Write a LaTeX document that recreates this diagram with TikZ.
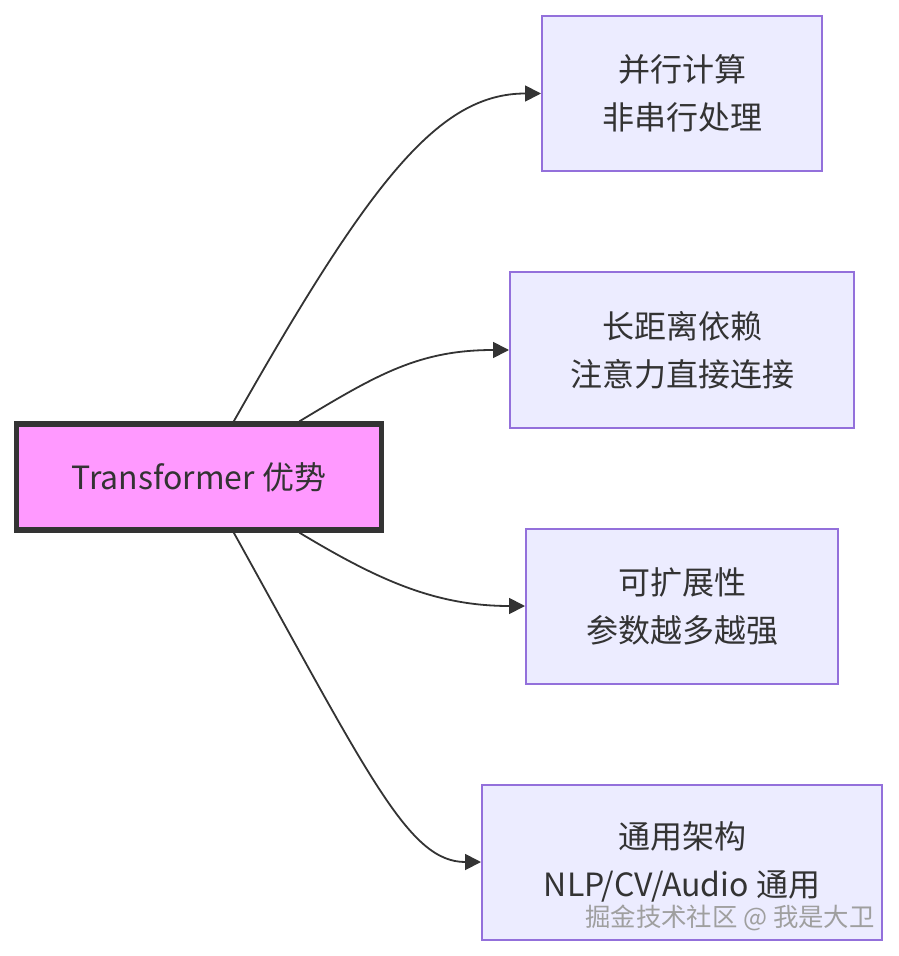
\documentclass[tikz,border=0pt]{standalone}
\usepackage{fontspec}
\setmainfont{Noto Sans CJK SC}
\usetikzlibrary{arrows.meta}
\definecolor{edgegray}{HTML}{333333}
\definecolor{boxfill}{HTML}{ECECFF}
\definecolor{boxline}{HTML}{9370DB}
\definecolor{mainfill}{HTML}{FF99FF}
\begin{document}
\begin{tikzpicture}[x=0.5pt, y=-0.5pt,
	every node/.style={font=\fontsize{16pt}{24pt}\selectfont, text=edgegray, align=center},
	point/.style={draw=boxline, fill=boxfill, line width=1pt, minimum height=77.5pt},
	root/.style={draw=edgegray, fill=mainfill, line width=2.6pt, minimum width=182.5pt, minimum height=53pt},
	link/.style={draw=edgegray, line width=0.9pt, -{Triangle[length=8pt,width=8pt]}}]
	\useasboundingbox (0,0) rectangle (898,956);
	\fill[white] (0,0) rectangle (898,956);
	\node[root] (main) at (199,477) {Transformer 优势};
	\node[point, minimum width=140pt] (par) at (682,93.5) {并行计算\\非串行处理};
	\node[point, minimum width=172pt] (dep) at (682,350) {长距离依赖\\注意力直接连接};
	\node[point, minimum width=156pt] (scl) at (682,606) {可扩展性\\参数越多越强};
	\node[point, minimum width=200pt] (gen) at (682,862) {通用架构\\NLP/CV/Audio 通用};
	\draw[link] (main.58) .. controls +(137,-242) and +(-102,0) .. (par.west);
	\draw[link] (main.29) .. controls +(78,-47) and +(-90,0) .. (dep.west);
	\draw[link] (main.-29) .. controls +(78,47) and +(-90,0) .. (scl.west);
	\draw[link] (main.-58) .. controls +(137,247) and +(-72,0) .. (gen.west);
	% watermark
	\node[font=\fontsize{12.7pt}{15pt}\selectfont, text=gray!75] (mark) at (730,918) {掘金技术社区 @ 我是大卫};
\end{tikzpicture}
\end{document}
